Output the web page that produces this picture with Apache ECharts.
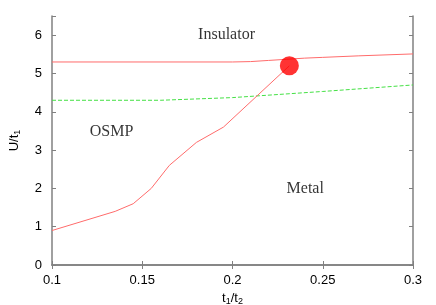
<!DOCTYPE html>
<html><head><meta charset="utf-8">
<script src="https://cdn.jsdelivr.net/npm/echarts@6/dist/echarts.min.js"></script>
<style>html,body{margin:0;padding:0;background:#fff}#c{width:436px;height:305px}</style>
</head><body><div id="c"></div>
<script>
const xTicks = [0.1, 0.15, 0.2, 0.25, 0.3];
const yTicks = [0, 1, 2, 3, 4, 5, 6];
const upperRed = [[0.1,5.3],[0.2,5.3],[0.21,5.31],[0.22,5.34],[0.23,5.37],[0.24,5.4],[0.25,5.42],[0.27,5.46],[0.3,5.51]];
const greenLine = [[0.1,4.3],[0.16,4.3],[0.2,4.37],[0.25,4.53],[0.3,4.70]];
const lowerRed = [[0.1,0.9],[0.135,1.4],[0.145,1.6],[0.155,2.0],[0.165,2.6],[0.18,3.2],[0.195,3.6],[0.2315,5.2]];
const criticalPoint = [[0.2315,5.2]];
const regionLabels = [
  {name:'Insulator', value:[0.1967,6.0]},
  {name:'OSMP', value:[0.133,3.47]},
  {name:'Metal', value:[0.2403,1.99]}
];
const axisColor = '#808080';
const tickFont = {color:'#000', fontFamily:'Liberation Sans', fontSize:13};
const chart = echarts.init(document.getElementById('c'));
chart.setOption({
  animation:false,
  grid:{left:52,right:23,top:16,bottom:40,containLabel:false,outerBoundsMode:'none'},
  xAxis:[{
    type:'value', min:0.1, max:0.3, interval:0.05,
    axisLine:{lineStyle:{color:axisColor,width:1.5}},
    axisTick:{inside:true,length:4,lineStyle:{color:axisColor}},
    splitLine:{show:false},
    axisLabel:Object.assign({margin:9, formatter:v=>String(+v.toFixed(2))}, tickFont),
    name:'{a|t}{s|1}{a|/t}{s|2}', nameLocation:'middle', nameGap:24,
    nameTextStyle:{rich:{a:{fontFamily:'Liberation Sans',fontSize:13,color:'#000'},s:{fontFamily:'Liberation Sans',fontSize:9,color:'#000',verticalAlign:'bottom',padding:[6,0,0,0]}}}
  },{
    type:'value', min:0.1, max:0.3, interval:0.05, position:'top',
    axisLine:{lineStyle:{color:axisColor,width:1.5}},
    axisTick:{inside:true,length:4,lineStyle:{color:axisColor}},
    axisLabel:{show:false}, splitLine:{show:false}
  }],
  yAxis:[{
    type:'value', min:0, max:6.5, interval:1,
    axisLine:{show:true,lineStyle:{color:axisColor,width:1.5}},
    axisTick:{show:true,inside:true,length:4,lineStyle:{color:axisColor}},
    splitLine:{show:false},
    axisLabel:Object.assign({margin:10, formatter:v=>(yTicks.indexOf(v)>=0?String(v):'')}, tickFont),
    name:'{a|U/t}{s|1}', nameLocation:'middle', nameGap:30, nameRotate:90,
    nameTextStyle:{rich:{a:{fontFamily:'Liberation Sans',fontSize:13,color:'#000'},s:{fontFamily:'Liberation Sans',fontSize:9,color:'#000',padding:[6,0,0,0]}}}
  },{
    type:'value', min:0, max:6.5, interval:1, position:'right',
    axisLine:{show:true,lineStyle:{color:axisColor,width:1.5}},
    axisTick:{show:true,inside:true,length:4,lineStyle:{color:axisColor}},
    axisLabel:{show:false}, splitLine:{show:false}
  }],
  series:[
    {type:'line', data:upperRed, symbol:'none', lineStyle:{color:'#ff6b6b',width:1}},
    {type:'line', data:greenLine, symbol:'none', lineStyle:{color:'#44e044',width:1,type:[4,2]}},
    {type:'line', data:lowerRed, symbol:'none', lineStyle:{color:'#ff6b6b',width:1}},
    {type:'scatter', data:criticalPoint, symbolSize:19, itemStyle:{color:'#ff0000'}, z:5},
    {type:'scatter', data:regionLabels, symbolSize:0,
      label:{show:true, position:'inside', formatter:p=>p.name, fontFamily:'Liberation Serif', fontSize:16, color:'#000'}}
  ]
});
</script></body></html>
